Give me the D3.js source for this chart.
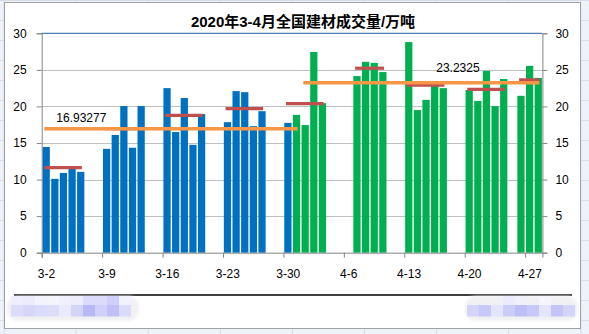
<!DOCTYPE html>
<html>
<head>
<meta charset="utf-8">
<script src="https://cdn.jsdelivr.net/npm/d3@7"></script>
<style>
  html, body { margin: 0; padding: 0; background: #eef3fa; }
  svg { display: block; }
</style>
</head>
<body>
<svg id="chart" width="589" height="334"></svg>
<script>
// ---- data -------------------------------------------------------------
const title = "2020年3-4月全国建材成交量/万吨";

// trading days (month-day, 2020)
const days = [
  "3-2","3-3","3-4","3-5","3-6",
  "3-9","3-10","3-11","3-12","3-13",
  "3-16","3-17","3-18","3-19","3-20",
  "3-23","3-24","3-25","3-26","3-27",
  "3-30","3-31","4-1","4-2","4-3",
  "4-7","4-8","4-9","4-10",
  "4-13","4-14","4-15","4-16","4-17",
  "4-20","4-21","4-22","4-23","4-24",
  "4-26","4-27","4-28"
];
// daily volume, 万吨
const volume = [
  14.45, 10.10, 10.90, 11.65, 11.05,
  14.20, 16.10, 20.05, 14.35, 20.05,
  22.50, 16.50, 21.15, 14.75, 18.95,
  17.85, 22.10, 21.95, 17.30, 19.35,
  17.75, 18.85, 17.45, 27.45, 20.45,
  24.15, 26.10, 25.95, 24.70,
  28.80, 19.50, 20.90, 22.90, 22.50,
  22.25, 20.75, 24.85, 20.05, 23.75,
  21.45, 25.55, 23.90
];
// bars from this day on use the second colour
const greenFrom = "3-31";

// monthly averages (label text = value)
const monthAvgLabel = ["16.93277", "23.2325"];
const monthAvgFrom  = ["3-2", "4-1"];
const monthAvgTo    = ["3-31", "4-28"];

// axis
const xTickLabels = ["3-2","3-9","3-16","3-23","3-30","4-6","4-13","4-20","4-27"];
const yTicks = [0, 5, 10, 15, 20, 25, 30];
const domainStart = "3-2", domainEnd = "4-29";

// ---- helpers ----------------------------------------------------------
const toDate = s => { const [m, d] = s.split("-").map(Number); return new Date(Date.UTC(2020, m - 1, d)); };
const addDays = (dt, n) => new Date(dt.getTime() + n * 864e5);

const svg = d3.select("#chart");
const W = 589, H = 334;
const plot = { left: 41.7, right: 542.4, top: 33.3, bottom: 252.7 };

// ---- worksheet backdrop -----------------------------------------------
const sheet = svg.append("g");
sheet.append("rect").attr("width", W).attr("height", H).attr("fill", "#eef3fa");
d3.range(4, W, 72.1).forEach(x => sheet.append("line")
  .attr("x1", x).attr("x2", x).attr("y1", 0).attr("y2", H)
  .attr("stroke", "#d6dde8").attr("stroke-width", 1));
d3.range(0.5, H, 20).forEach(y => sheet.append("line")
  .attr("x1", 0).attr("x2", W).attr("y1", y).attr("y2", y)
  .attr("stroke", "#d6dde8").attr("stroke-width", 1));

// chart area
svg.append("rect")
  .attr("x", 4.5).attr("y", 2.5).attr("width", 576).attr("height", 326)
  .attr("fill", "#ffffff").attr("stroke", "#a0a0a0").attr("stroke-width", 1);

// ---- scales -----------------------------------------------------------
const x = d3.scaleUtc()
  .domain([toDate(domainStart), toDate(domainEnd)])
  .range([plot.left, plot.right]);
const y = d3.scaleLinear().domain([0, 30]).range([plot.bottom, plot.top]);
const dayW = x(addDays(toDate(domainStart), 1)) - x(toDate(domainStart));

// ---- grid -------------------------------------------------------------
svg.append("g").selectAll("line").data(yTicks.filter(v => v > 0 && v < 30)).join("line")
  .attr("x1", plot.left).attr("x2", plot.right)
  .attr("y1", d => Math.round(y(d)) + 0.5).attr("y2", d => Math.round(y(d)) + 0.5)
  .attr("stroke", "#bfbfbf").attr("stroke-width", 1);

// ---- bars -------------------------------------------------------------
const rows = days.map((d, i) => ({ day: d, date: toDate(d), v: volume[i] }));
const splitDate = toDate(greenFrom);
svg.append("g").selectAll("rect").data(rows).join("rect")
  .attr("x", d => x(d.date) + dayW * 0.1)
  .attr("width", dayW * 0.84)
  .attr("y", d => y(d.v))
  .attr("height", d => y(0) - y(d.v))
  .attr("fill", d => d.date >= splitDate ? "#00b050" : "#0070c0");

// ---- weekly averages (red) --------------------------------------------
const weeks = d3.groups(rows, d => +d3.utcSunday.floor(d.date)).map(([, r]) => ({
  from: r[0].date, to: r[r.length - 1].date, v: d3.mean(r, d => d.v)
}));
svg.append("g").selectAll("line").data(weeks).join("line")
  .attr("x1", d => x(addDays(d.from, 0.3)))
  .attr("x2", d => x(addDays(d.to, 0.65)))
  .attr("y1", d => y(d.v)).attr("y2", d => y(d.v))
  .attr("stroke", "#c0504d").attr("stroke-width", 3.2);

// ---- monthly averages (orange) ----------------------------------------
const months = monthAvgLabel.map((lab, i) => ({
  label: lab, v: +lab, from: toDate(monthAvgFrom[i]), to: toDate(monthAvgTo[i])
}));
svg.append("g").selectAll("line").data(months).join("line")
  .attr("x1", d => x(addDays(d.from, 0.3)))
  .attr("x2", d => x(addDays(d.to, 0.65)))
  .attr("y1", d => y(d.v)).attr("y2", d => y(d.v))
  .attr("stroke", "#f79646").attr("stroke-width", 3.5);

// value labels sit above each average line
const labelDx = [12, 133];
const labelDy = [-7, -11];
svg.append("g").selectAll("text").data(months).join("text")
  .attr("x", (d, i) => x(addDays(d.from, 0.3)) + labelDx[i])
  .attr("y", (d, i) => y(d.v) + labelDy[i])
  .attr("font-family", "'Liberation Sans', Arial, sans-serif")
  .attr("font-size", 12).attr("fill", "#000")
  .text(d => d.label);

// ---- axes -------------------------------------------------------------
const axisColor = "#868686";
const fontAxis = "'Liberation Sans', Arial, sans-serif";

const yLeft = svg.append("g").attr("transform", `translate(${plot.left},0)`)
  .call(d3.axisLeft(y).tickValues(yTicks).tickSize(5).tickPadding(10));
const yRight = svg.append("g").attr("transform", `translate(${plot.right},0)`)
  .call(d3.axisRight(y).tickValues(yTicks).tickSize(5).tickPadding(8));
[yLeft, yRight].forEach(g => {
  g.select(".domain").attr("stroke", axisColor);
  g.selectAll(".tick line").attr("stroke", axisColor);
  g.selectAll("text").attr("font-family", fontAxis).attr("font-size", 12).attr("fill", "#000");
});

const xTickDates = xTickLabels.map(toDate);
const xAxis = svg.append("g").attr("transform", `translate(0,${plot.bottom})`)
  .call(d3.axisBottom(x).tickValues(xTickDates).tickSize(5).tickPadding(12)
    .tickFormat((d, i) => xTickLabels[i]));
xAxis.select(".domain").attr("stroke", axisColor);
xAxis.selectAll(".tick line").attr("stroke", axisColor);
xAxis.selectAll("text").attr("x", dayW / 2)
  .attr("font-family", fontAxis).attr("font-size", 12).attr("fill", "#000");

// top edge of the plot
svg.append("line")
  .attr("x1", plot.left).attr("x2", plot.right)
  .attr("y1", plot.top).attr("y2", plot.top)
  .attr("stroke", "#4f7fb8").attr("stroke-width", 1.2);

// ---- title ------------------------------------------------------------
svg.append("text")
  .attr("x", 303).attr("y", 26.5).attr("text-anchor", "middle")
  .attr("font-family", "'Liberation Sans', 'Noto Sans CJK SC', sans-serif")
  .attr("font-weight", "bold").attr("font-size", 15).attr("fill", "#000")
  .text(title);

// ---- footer rule and masked source note --------------------------------
svg.append("line")
  .attr("x1", 14).attr("x2", 572).attr("y1", 295).attr("y2", 295)
  .attr("stroke", "#000").attr("stroke-width", 1.3);

const defs = svg.append("defs");
defs.append("filter").attr("id", "soft").append("feGaussianBlur").attr("stdDeviation", 1.6);
defs.append("filter").attr("id", "soft2").append("feGaussianBlur").attr("stdDeviation", 0.5);

function mosaic(x0, w, topRow, bottomRow, tx0) {
  const g = svg.append("g");
  g.append("rect").attr("x", x0).attr("y", 296).attr("width", w).attr("height", 25)
    .attr("rx", 11).attr("fill", "#f1f1f4").attr("filter", "url(#soft)");
  const cells = g.append("g").attr("filter", "url(#soft2)");
  topRow.forEach((c, i) => c && cells.append("rect")
    .attr("x", tx0 + i * 12).attr("y", 296).attr("width", 12).attr("height", 9.5).attr("fill", c));
  bottomRow.forEach((c, i) => c && cells.append("rect")
    .attr("x", tx0 + i * 12).attr("y", 305).attr("width", 12).attr("height", 11.5).attr("fill", c));
}
mosaic(7, 132, ["#eeeefc","#ececfc","#f3f3fd","#f4f4fd","#f0f0fc","#ededfc","#dcdcfa","#dcdcfa","#cfcff8","#f2f2fd"],
               ["#dcdcfa","#d6d6f9","#dadafa","#ddddfa","#eaeafc","#d4d4f8","#b8b8f6","#d0d0f8","#c0c0f6","#dadafa"], 11);
mosaic(465, 113, [null,null,null,"#ebebfc","#f0f0fc",null,"#f5f5fd",null,null],
                 ["#d4d4f9","#c8c8f8","#e4e4fc","#ccccf8","#bebef6","#c8c8f8","#e4e4fc","#c4c4f7","#d4d4f9"], 467);
</script>
</body>
</html>
